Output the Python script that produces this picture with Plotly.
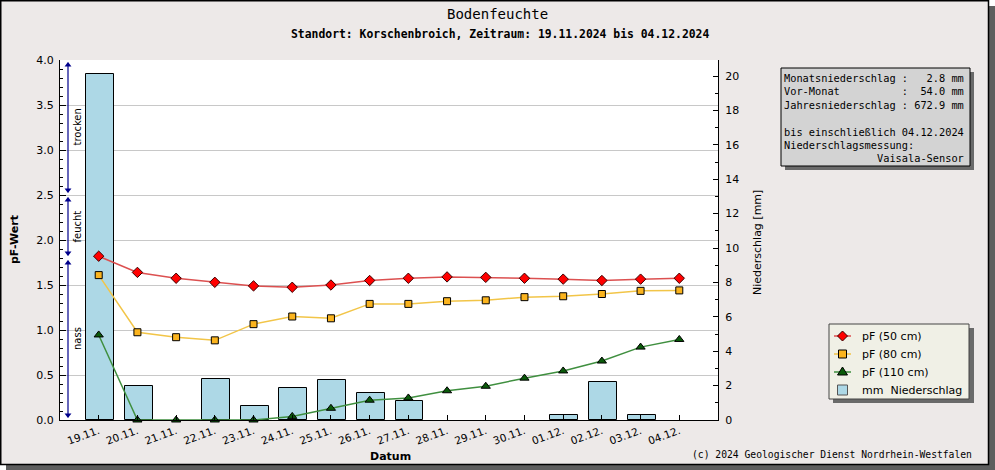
import plotly.graph_objects as go

# ---------------- data ----------------
dates = ["19.11.", "20.11.", "21.11.", "22.11.", "23.11.", "24.11.", "25.11.", "26.11.",
         "27.11.", "28.11.", "29.11.", "30.11.", "01.12.", "02.12.", "03.12.", "04.12."]
pf_50 = [1.82, 1.64, 1.575, 1.53, 1.49, 1.475, 1.50, 1.55, 1.575, 1.59, 1.585, 1.575,
         1.565, 1.55, 1.565, 1.575]
pf_80 = [1.61, 0.975, 0.92, 0.885, 1.065, 1.15, 1.13, 1.29, 1.29, 1.32, 1.33, 1.365,
         1.375, 1.40, 1.435, 1.44]
pf_110 = [0.945, 0.0, 0.0, 0.0, 0.0, 0.04, 0.13, 0.22, 0.245, 0.325, 0.375, 0.465,
          0.545, 0.655, 0.81, 0.895]
niederschlag = [20.1, 2.0, 0.0, 2.4, 0.8, 1.85, 2.35, 1.55, 1.1, 0.0, 0.0, 0.0,
                0.3, 2.2, 0.3, 0.0]

zone_names = ["trocken", "feucht", "nass"]
zone_top = [4.0, 2.5, 1.8]
zone_bottom = [2.5, 1.8, 0.0]

info_lines = ["Monatsniederschlag :   2.8 mm",
              "Vor-Monat          :  54.0 mm",
              "Jahresniederschlag : 672.9 mm",
              "",
              "bis einschließlich 04.12.2024",
              "Niederschlagsmessung:",
              "               Vaisala-Sensor"]

legend_labels = ["pF (50 cm)", "pF (80 cm)", "pF (110 cm)", "mm  Niederschlag"]

title_text = "Bodenfeuchte"
subtitle_text = "Standort: Korschenbroich, Zeitraum: 19.11.2024 bis 04.12.2024"
copyright_text = "(c) 2024 Geologischer Dienst Nordrhein-Westfalen"

# ---------------- geometry helpers ----------------
W, H = 995, 470
ML, MR, MT, MB = 60, 277, 60, 50
PW = W - ML - MR
PH = H - MT - MB


def px2x(px):
    return (px - ML) / PW


def px2y(py):
    return (H - MB - py) / PH


xs = list(range(len(dates)))
NB = "\u00a0"

SANS = "DejaVu Sans"
MONO = "DejaVu Sans Mono"

BAR_FILL = "#add8e6"
styles = [
    # line colour, symbol, size, fill, outline
    ("#dc5050", "diamond", 8, "#ff0000", "#3a0000"),
    ("#f2c548", "square", 7, "#fbb41e", "#000000"),
    ("#3f8f3f", "triangle-up", 8, "#0a5a0a", "#000000"),
]

fig = go.Figure()

# precipitation bars (base axis, right side); days without rain get no outline
fig.add_trace(go.Bar(
    x=xs, y=niederschlag, yaxis="y", name=legend_labels[3],
    width=0.72, offset=-0.33, showlegend=False,
    marker=dict(color=BAR_FILL,
                line=dict(color="black", width=[1 if v > 0 else 0 for v in niederschlag])),
))

for name, vals, (lc, sym, sz, fc, oc) in zip(legend_labels[:3], [pf_50, pf_80, pf_110], styles):
    fig.add_trace(go.Scatter(
        x=xs, y=vals, yaxis="y2", name=name, mode="lines+markers",
        showlegend=False, cliponaxis=False,
        line=dict(color=lc, width=1.5),
        marker=dict(symbol=sym, size=sz, color=fc, line=dict(color=oc, width=1)),
    ))

# zone arrows on the left
arrow_x = -1 + (68 - ML) / (PW / 17.0)
arrow_color = "#00008b"
shapes = []
annotations = []
up_y, down_y = [], []
for name, top, bot in zip(zone_names, zone_top, zone_bottom):
    shapes.append(dict(type="line", xref="x", yref="y2", x0=arrow_x, x1=arrow_x,
                       y0=bot + 0.03, y1=top - 0.03,
                       line=dict(color=arrow_color, width=1.2)))
    up_y.append(top - 0.055)
    down_y.append(bot + 0.055)
    annotations.append(dict(xref="paper", yref="y2", x=px2x(77), y=(top + bot) / 2,
                            text=name, showarrow=False, textangle=-90,
                            xanchor="center", yanchor="middle",
                            font=dict(family=SANS, size=10, color="black")))
fig.add_trace(go.Scatter(x=[arrow_x] * len(up_y), y=up_y, yaxis="y2", mode="markers",
                         showlegend=False, hoverinfo="skip", cliponaxis=False,
                         marker=dict(symbol="triangle-up", size=6, color=arrow_color)))
fig.add_trace(go.Scatter(x=[arrow_x] * len(down_y), y=down_y, yaxis="y2", mode="markers",
                         showlegend=False, hoverinfo="skip", cliponaxis=False,
                         marker=dict(symbol="triangle-down", size=6, color=arrow_color)))


def rect(x0, y0, x1, y1, fill, line=None, lw=0):
    return dict(type="rect", xref="paper", yref="paper",
                x0=px2x(x0), x1=px2x(x1), y0=px2y(y1), y1=px2y(y0),
                fillcolor=fill, line=dict(width=lw, color=line or fill), layer="above")


def path(points, fill, line, lw=1):
    d = "M" + " L".join(f"{px2x(a):.6f},{px2y(b):.6f}" for a, b in points) + " Z"
    return dict(type="path", xref="paper", yref="paper", path=d, fillcolor=fill,
                line=dict(color=line, width=lw), layer="above")


# outer frame + shadow
shapes.append(rect(989, 6, 995, 470, "#5e5e5e"))
shapes.append(rect(6, 465, 995, 470, "#5e5e5e"))
shapes.append(rect(989, 0, 995, 6, "#ffffff"))
shapes.append(rect(0, 465, 6, 470, "#ffffff"))
shapes.append(dict(type="rect", xref="paper", yref="paper",
                   x0=px2x(0.75), x1=px2x(988.5), y0=px2y(464.5), y1=px2y(0.75),
                   line=dict(color="black", width=1.5), fillcolor="rgba(0,0,0,0)"))

# info box
shapes.append(rect(785, 72, 974, 170, "#6a6a6a"))
shapes.append(rect(781, 68, 970, 166, "#d3d3d3", "black", 1))
info_text = "<br>".join((l if l else " ").replace(" ", NB) for l in info_lines)
annotations.append(dict(xref="paper", yref="paper", x=px2x(782), y=px2y(70),
                        xanchor="left", yanchor="top", align="left", showarrow=False,
                        text=info_text, font=dict(family=MONO, size=10.3, color="black")))

# legend (drawn manually to match the reference box)
shapes.append(rect(833, 328, 974, 403, "#6a6a6a"))
shapes.append(rect(829, 324, 969, 399, "#f0f0e6", "#444444", 1))
row_y = [336, 354, 372, 390]
cx = 842.5
for (lc, sym, sz, fc, oc), ry in zip(styles, row_y[:3]):
    shapes.append(dict(type="line", xref="paper", yref="paper",
                       x0=px2x(834), x1=px2x(851), y0=px2y(ry), y1=px2y(ry),
                       line=dict(color=lc, width=1.5), layer="above"))
    if sym == "diamond":
        shapes.append(path([(cx, ry - 5), (cx + 5, ry), (cx, ry + 5), (cx - 5, ry)], fc, oc))
    elif sym == "square":
        shapes.append(rect(cx - 4, ry - 4, cx + 4, ry + 4, fc, oc, 1))
    else:
        shapes.append(path([(cx, ry - 5), (cx + 5, ry + 3), (cx - 5, ry + 3)], fc, oc))
shapes.append(rect(837.5, row_y[3] - 5, 847.5, row_y[3] + 5, BAR_FILL, "#555555", 1))
for lab, ry in zip(legend_labels, row_y):
    annotations.append(dict(xref="paper", yref="paper", x=px2x(860), y=px2y(ry),
                            xanchor="left", yanchor="middle", showarrow=False,
                            text=lab.replace(" ", NB),
                            font=dict(family=SANS, size=11, color="black")))

# titles
annotations += [
    dict(xref="paper", yref="paper", x=px2x(497.5), y=px2y(14), text=title_text,
         showarrow=False, xanchor="center", yanchor="middle",
         font=dict(family=MONO, size=14, color="black")),
    dict(xref="paper", yref="paper", x=px2x(499.5), y=px2y(34), text="<b>" + subtitle_text + "</b>",
         showarrow=False, xanchor="center", yanchor="middle",
         font=dict(family=MONO, size=11.4, color="black")),
    dict(xref="paper", yref="paper", x=px2x(14), y=px2y(240), text="<b>pF-Wert</b>",
         showarrow=False, textangle=-90, xanchor="center", yanchor="middle",
         font=dict(family=SANS, size=11, color="black")),
    dict(xref="paper", yref="paper", x=px2x(757), y=px2y(243), text="Niederschlag [mm]",
         showarrow=False, textangle=-90, xanchor="center", yanchor="middle",
         font=dict(family=SANS, size=11, color="black")),
    dict(xref="paper", yref="paper", x=px2x(390), y=px2y(456), text="<b>Datum</b>",
         showarrow=False, xanchor="center", yanchor="middle",
         font=dict(family=SANS, size=11, color="black")),
    dict(xref="paper", yref="paper", x=px2x(974), y=px2y(454), text=copyright_text.replace(" ", NB),
         showarrow=False, xanchor="right", yanchor="middle",
         font=dict(family=MONO, size=9.7, color="black")),
]

fig.update_layout(
    width=W, height=H,
    margin=dict(l=ML, r=MR, t=MT, b=MB, pad=0),
    paper_bgcolor="#ede9e8",
    plot_bgcolor="white",
    font=dict(family=SANS, size=11, color="black"),
    showlegend=False,
    bargap=0,
    xaxis=dict(range=[-1, 16], tickmode="array", tickvals=xs, ticktext=dates,
               tickangle=-20, ticks="inside", ticklen=5, tickcolor="black",
               showline=True, linecolor="black", linewidth=1, showgrid=False,
               zeroline=False, anchor="y",
               tickfont=dict(family=SANS, size=10.5, color="black")),
    yaxis=dict(range=[0, 20.93], side="right", dtick=2, tick0=0,
               ticks="inside", ticklen=5, tickcolor="black",
               minor=dict(dtick=1, tick0=0, ticks="inside", ticklen=3, tickcolor="black",
                          showgrid=False),
               showline=True, linecolor="black", linewidth=1, showgrid=False,
               zeroline=False, anchor="x", ticklabelstandoff=4,
               tickfont=dict(family=SANS, size=11, color="black")),
    yaxis2=dict(range=[0, 4], overlaying="y", side="left", anchor="x",
                dtick=0.5, tick0=0, tickformat=".1f",
                ticks="inside", ticklen=6, tickcolor="black",
                minor=dict(dtick=0.1, tick0=0, ticks="inside", ticklen=3, tickcolor="black",
                           showgrid=False),
                showline=True, linecolor="black", linewidth=1,
                showgrid=True, gridcolor="#c8c8c8", gridwidth=1, zeroline=False,
                ticklabelstandoff=3,
                tickfont=dict(family=SANS, size=11, color="black")),
    shapes=shapes,
    annotations=annotations,
)

fig.write_html("out.html", config={"displayModeBar": False},
               post_script="document.body.style.margin='0';document.body.style.padding='0';")
